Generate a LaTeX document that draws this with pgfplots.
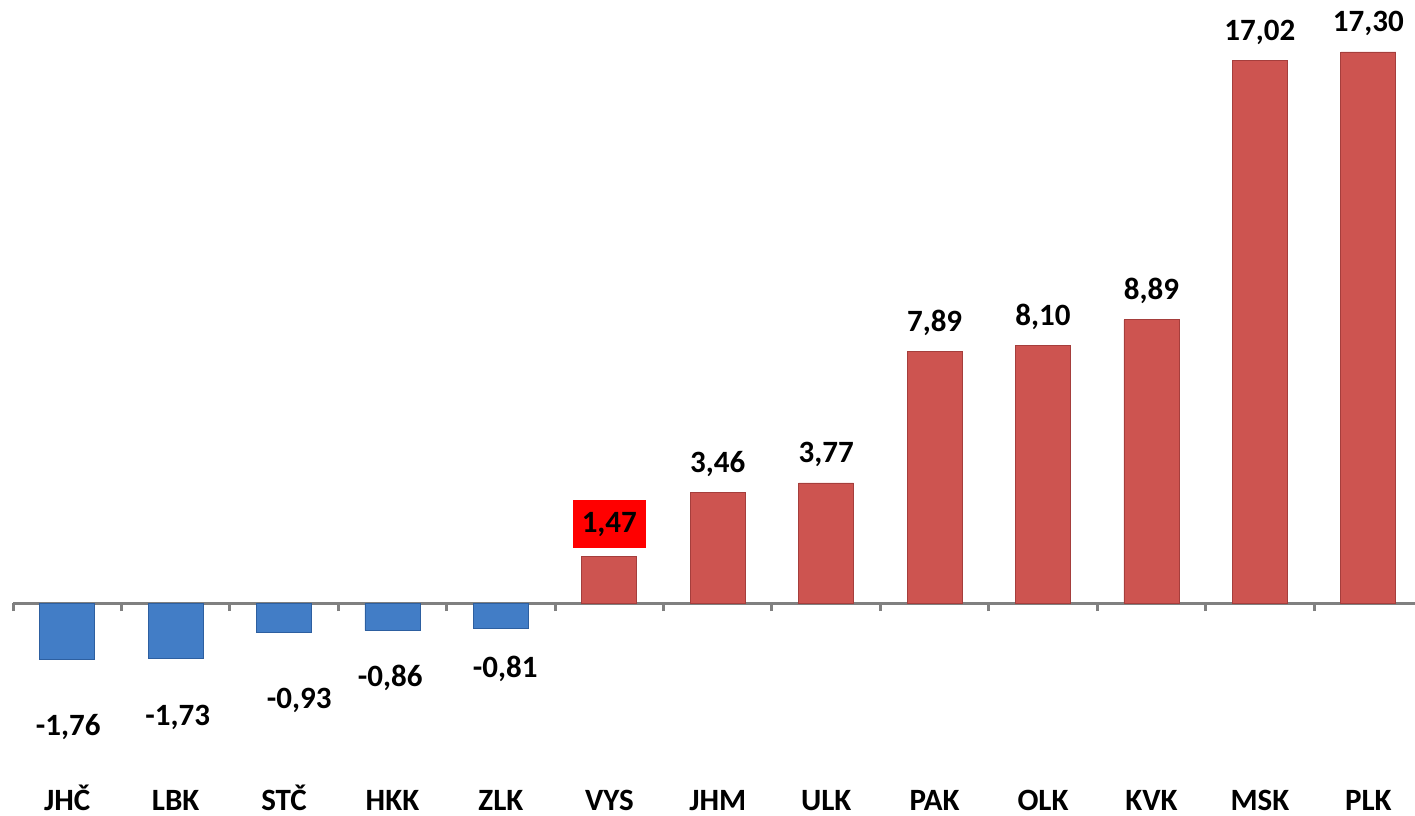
\documentclass[border=0pt]{standalone}
\usepackage{fontspec}
\setmainfont{Carlito}
\usepackage{pgfplots}
\pgfplotsset{compat=1.18}
\definecolor{barred}{RGB}{205,84,80}
\definecolor{barredd}{RGB}{165,62,60}
\definecolor{barblue}{RGB}{66,125,198}
\definecolor{barblued}{RGB}{45,95,160}
\definecolor{axgray}{RGB}{128,128,128}
\newcommand{\lblfont}{\fontsize{15.5}{18}\selectfont\bfseries}
\begin{document}
\begin{tikzpicture}
\begin{axis}[
 scale only axis, width=704.5pt, height=407.5pt,
 xmin=-0.5, xmax=12.5, ymin=-6.66, ymax=18.93,
 axis x line=middle, axis y line=none,
 axis line style={-, draw=axgray, line width=1.5pt},
 x axis line style={-},
 xtick={0,...,12},
 xticklabels={JHČ,LBK,STČ,HKK,ZLK,VYS,JHM,ULK,PAK,OLK,KVK,MSK,PLK},
 major tick length=0pt,
 minor xtick={-0.5,0.5,...,12.5},
 minor tick length=4pt,
 xtick align=outside,
 minor tick style={draw=axgray, line width=1.5pt},
 hide obscured x ticks=false,
 xticklabel style={anchor=base, yshift=-103.5pt, font=\lblfont},
 ybar, bar width=27.5pt, bar shift=0pt,
 clip=false,
 /pgf/number format/fixed,
 /pgf/number format/fixed zerofill,
 /pgf/number format/precision=2,
 /pgf/number format/use comma,
 /pgf/number format/assume math mode=true,
]
\addplot[bar shift=0pt, fill=barblue, draw=barblued] coordinates {(0,-1.76)(1,-1.73)(2,-0.93)(3,-0.86)(4,-0.81)};
\addplot[bar shift=0pt, fill=barred, draw=barredd, nodes near coords,
  every node near coord/.append style={anchor=base, yshift=10pt, font=\lblfont, text=black}]
  coordinates {(6,3.46)(7,3.77)(8,7.89)(9,8.10)(10,8.89)(11,17.02)(12,17.30)};
\addplot[bar shift=0pt, fill=barred, draw=barredd, nodes near coords,
  every node near coord/.append style={anchor=center, yshift=16pt, font=\lblfont, text=black, fill=red, inner xsep=4.5pt, minimum height=24pt}]
  coordinates {(5,1.47)};
\node[font=\lblfont] at (axis cs:0.01,-3.89) {-1,76};
\node[font=\lblfont] at (axis cs:1.02,-3.58) {-1,73};
\node[font=\lblfont] at (axis cs:2.14,-3.05) {-0,93};
\node[font=\lblfont] at (axis cs:2.98,-2.35) {-0,86};
\node[font=\lblfont] at (axis cs:4.04,-2.07) {-0,81};
\coordinate (bl) at (axis cs:-0.5,-6.66);
\coordinate (tr) at (axis cs:12.5,18.93);
\end{axis}
\pgfresetboundingbox
\useasboundingbox ([xshift=-6.5pt]bl) rectangle ([xshift=-3.75pt]tr);
\end{tikzpicture}
\end{document}
